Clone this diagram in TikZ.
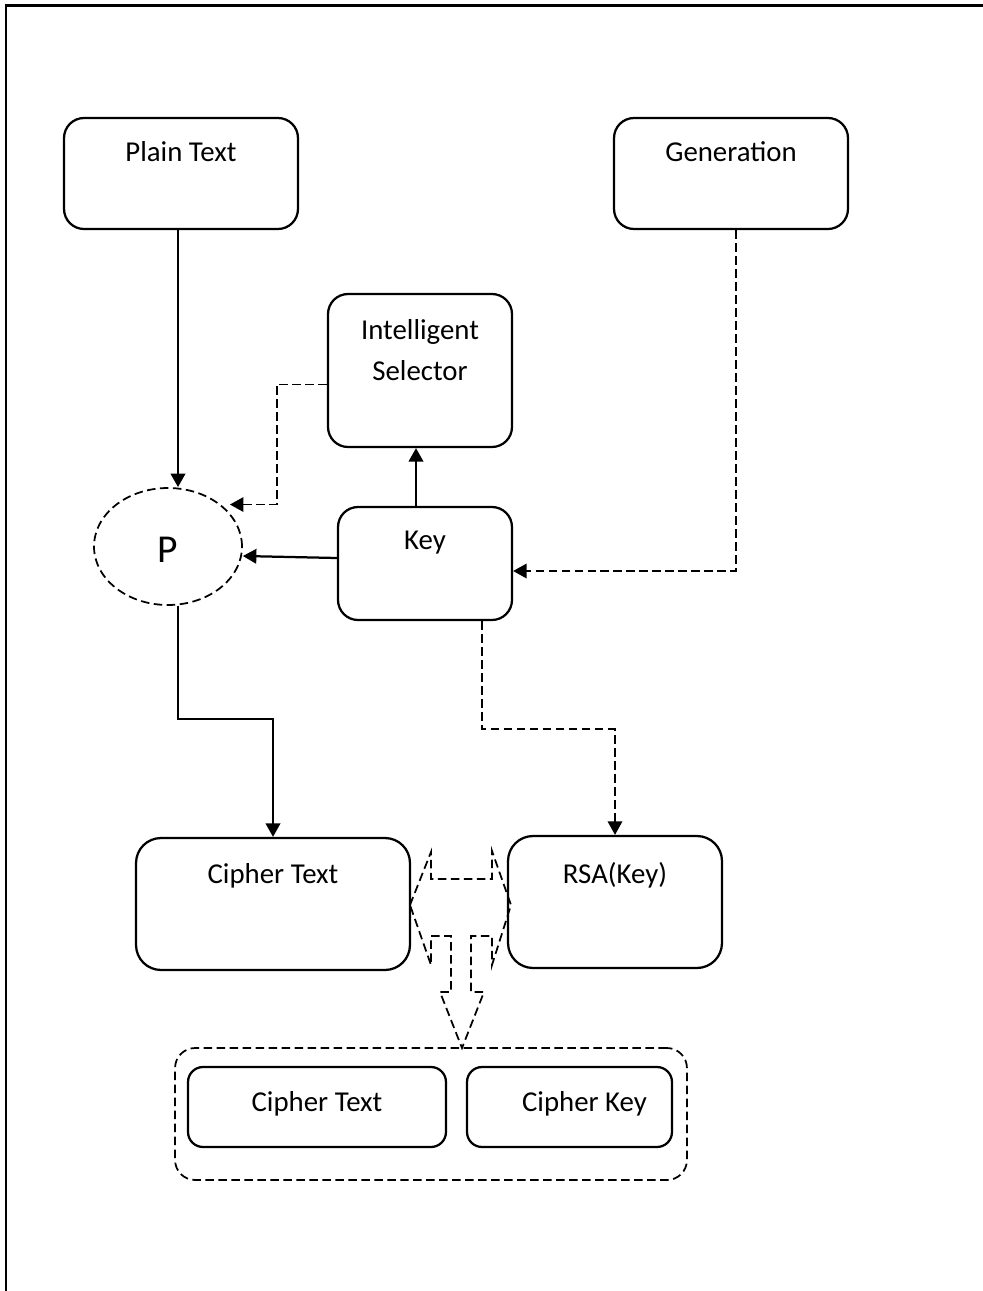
\documentclass[tikz,border=0pt]{standalone}
\usepackage{fontspec}
\setmainfont{Carlito}
\usetikzlibrary{arrows.meta,shapes.geometric}
\tikzset{
    every node/.style={font=\fontsize{16.4}{23.1}\selectfont, inner sep=0pt},
    box/.style={draw, rounded corners=0.4cm, line width=0.045cm, align=center},
    dashline/.style={line width=0.035cm, dash pattern=on 0.17cm off 0.09cm},
    conn/.style={line width=0.045cm, -{Triangle[width=0.29cm,length=0.27cm]}}
}

\begin{document}
\begin{tikzpicture}[x=0.02cm, y=-0.02cm]
    \useasboundingbox (0,0) rectangle (983,1291);
    \draw[line width=0.06cm] (6,1291) -- (6,6) -- (983,6);

    \node (pt) [box, minimum width=4.68cm, text height=0.86cm, text depth=1.36cm] at (181,173.5) {Plain Text};
    \node (gen) [box, minimum width=4.68cm, text height=0.86cm, text depth=1.36cm] at (731,173.5) {Generation};
    \node (sel) [box, minimum width=3.68cm, text height=1.72cm, text depth=1.34cm] at (420,370.5) {Intelligent\\Selector};
    \node (key) [box, minimum width=3.48cm, text height=0.84cm, text depth=1.42cm] at (425,563.5) {Key};
    \node (p) [ellipse, draw, dashline, minimum width=2.96cm, minimum height=2.34cm,
        label={[font=\fontsize{22.5}{27}\selectfont, anchor=base, yshift=-0.07cm]center:P}] at (168,546.5) {};
    \node (ct) [box, rounded corners=0.5cm, minimum width=5.48cm, text height=0.90cm, text depth=1.74cm] at (273,904) {Cipher Text};
    \node (rsa) [box, rounded corners=0.5cm, minimum width=4.28cm, text height=0.94cm, text depth=1.70cm] at (615,902) {RSA(Key)};

    \node (out) [draw, dashline, rounded corners=0.4cm, minimum width=10.24cm, minimum height=2.64cm] at (431,1114) {};
    \node (ct2) [box, rounded corners=0.3cm, minimum width=5.16cm, text height=0.88cm, text depth=0.72cm] at (317,1107) {Cipher Text};
    \node (ck) [box, rounded corners=0.3cm, minimum width=4.10cm, text height=0.88cm, text depth=0.72cm] at (569.5,1107) {\hspace*{0.6cm}Cipher Key};

    \draw[conn] ([xshift=-0.06cm]pt.south) -- ([xshift=-0.06cm]pt.south |- p.north);
    \draw[conn, dashline] ([yshift=-0.28cm]sel.west) -- ++(-50,0) |- ([xshift=0.18cm]p.north east);
    \draw[conn] ([yshift=0.11cm]key.west) -- ([yshift=-0.19cm]p.east);
    \draw[conn] ([xshift=-0.18cm]key.north) -- ([xshift=-0.18cm]key.north |- sel.south);
    \draw[conn, dashline] ([xshift=0.1cm]gen.south) |- ([yshift=-0.15cm]key.east);
    \draw[conn, dashline] ([xshift=1.14cm]key.south) -- ++(0,108) -| (rsa.north);
    \draw[conn] ([xshift=0.2cm]p.south) -- ++(0,113) -| (ct.north);

    % left-right-down arrow between the two boxes
    \draw[dashline] (410,905) -- (431,852) -- (431,879) -- (492,879) -- (492,851) -- (511,905)
        -- (492,965) -- (492,936) -- (471,936) -- (471,992) -- (484,992) -- (462,1048)
        -- (440,992) -- (451,992) -- (451,936) -- (431,936) -- (431,965) -- cycle;
\end{tikzpicture}
\end{document}
